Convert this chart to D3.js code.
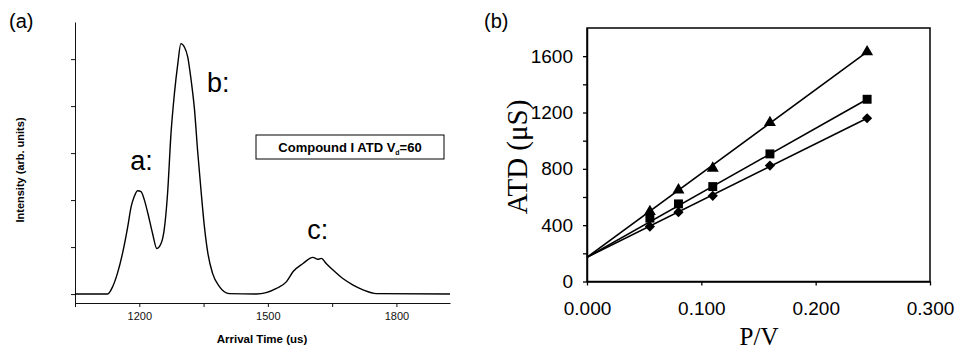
<!DOCTYPE html>
<html>
<head>
<meta charset="utf-8">
<script src="https://cdn.jsdelivr.net/npm/d3@7"></script>
<style>
    body { margin: 0; background: #fff; }
    svg { display: block; }
    .sans { font-family: "Liberation Sans", Arial, sans-serif; }
    .serif { font-family: "Liberation Serif", "Times New Roman", serif; }
</style>
</head>
<body>
<script>
// (a) arrival time distribution, intensity in y-tick units
var arrivalTimes = [1050, 1126, 1138, 1149, 1161, 1173, 1181, 1188, 1196, 1204, 1212, 1220,
    1231, 1241, 1251, 1258, 1266, 1274, 1282, 1290, 1297, 1305, 1313, 1321, 1329, 1336,
    1344, 1352, 1360, 1371, 1387, 1410, 1473, 1496, 1520, 1543, 1559, 1582, 1605, 1617,
    1625, 1636, 1652, 1675, 1699, 1722, 1753, 1925];
var intensities = [0, 0, 0.16, 0.44, 0.87, 1.43, 1.86, 2.07, 2.20, 2.18, 2.00, 1.72,
    1.29, 0.97, 1.08, 1.36, 2.14, 3.42, 4.27, 4.91, 5.33, 5.26, 5.05, 4.55, 3.91, 3.06,
    2.21, 1.43, 0.87, 0.44, 0.16, 0.01, 0, 0.03, 0.12, 0.26, 0.48, 0.65, 0.78, 0.74,
    0.76, 0.65, 0.51, 0.33, 0.19, 0.09, 0.01, 0];
var timeTicks = [1050, 1200, 1350, 1500, 1650, 1800];
var timeLabels = [1200, 1500, 1800];
var intensityTicks = [0, 1, 2, 3, 4, 5];
var peakLabels = ["a:", "b:", "c:"];
var peakTimes = [1179, 1358, 1592];
var peakHeights = [2.65, 4.3, 1.17];

// (b) ATD versus P/V
var pvValues = [0.055, 0.08, 0.11, 0.16, 0.245];
var atdTriangle = [496, 650, 804, 1128, 1631];
var atdSquare = [450, 551, 674, 906, 1294];
var atdDiamond = [390, 492, 608, 823, 1159];
var fitIntercept = 172;
var pvTicks = [0, 0.1, 0.2, 0.3];
var atdTicks = [0, 200, 400, 600, 800, 1000, 1200, 1400, 1600];

var svg = d3.select("body").append("svg")
    .attr("width", 960)
    .attr("height", 349);

drawPanelA();
drawPanelB();

function drawPanelA() {
    var xScale = d3.scaleLinear().domain([1050, 1925]).range([75, 450]);
    var yScale = d3.scaleLinear().domain([-0.19, 5.79]).range([303, 22]);

    svg.append("text")
        .attr("class", "sans")
        .attr("x", 9)
        .attr("y", 28)
        .style("font-size", "20px")
        .text("(a)");

    // Bottom axis
    var xAxis = svg.append("g")
        .attr("transform", `translate(0, ${yScale.range()[0]})`)
        .call(d3.axisBottom(xScale)
            .tickValues(timeTicks)
            .tickSize(4)
            .tickSizeOuter(0)
            .tickPadding(5)
            .tickFormat(function(d) { return timeLabels.indexOf(d) >= 0 ? d : ""; }));
    xAxis.selectAll("text")
        .attr("class", "sans")
        .style("font-size", "11px")
        .attr("fill", "#111");

    // Left axis without labels
    svg.append("g")
        .attr("transform", `translate(${xScale.range()[0]}, 0)`)
        .call(d3.axisLeft(yScale)
            .tickValues(intensityTicks)
            .tickSize(4)
            .tickSizeOuter(0)
            .tickFormat(""));

    svg.selectAll(".domain, .tick line").attr("stroke", "#111");

    // Curve
    var line = d3.line()
        .x(function(d) { return xScale(d[0]); })
        .y(function(d) { return yScale(d[1]); })
        .curve(d3.curveMonotoneX);

    svg.append("path")
        .datum(d3.zip(arrivalTimes, intensities))
        .attr("d", line)
        .attr("fill", "none")
        .attr("stroke", "#000")
        .attr("stroke-width", 1.4);

    // Peak labels
    svg.selectAll(".peak")
        .data(peakLabels)
        .enter()
        .append("text")
        .attr("class", "sans")
        .attr("x", function(d, i) { return xScale(peakTimes[i]); })
        .attr("y", function(d, i) { return yScale(peakHeights[i]); })
        .style("font-size", "27px")
        .text(function(d) { return d; });

    // Legend box
    svg.append("rect")
        .attr("x", 256)
        .attr("y", 135)
        .attr("width", 188)
        .attr("height", 24)
        .attr("fill", "none")
        .attr("stroke", "#000")
        .attr("stroke-width", 1);

    var legend = svg.append("text")
        .attr("class", "sans")
        .attr("x", 350)
        .attr("y", 152)
        .attr("text-anchor", "middle")
        .style("font-size", "13px")
        .style("font-weight", "bold");
    legend.append("tspan").text("Compound I ATD V");
    legend.append("tspan").attr("dy", 3).style("font-size", "7px").text("d");
    legend.append("tspan").attr("dy", -3).text("=60");

    // Axis labels
    svg.append("text")
        .attr("class", "sans")
        .attr("transform", "translate(24, 170) rotate(-90)")
        .attr("text-anchor", "middle")
        .style("font-size", "11px")
        .style("font-weight", "bold")
        .text("Intensity (arb. units)");

    svg.append("text")
        .attr("class", "sans")
        .attr("x", 262)
        .attr("y", 343)
        .attr("text-anchor", "middle")
        .style("font-size", "11.5px")
        .style("font-weight", "bold")
        .text("Arrival Time (us)");
}

function drawPanelB() {
    var xScale = d3.scaleLinear().domain([0, 0.3]).range([587, 930]);
    var yScale = d3.scaleLinear().domain([0, 1800]).range([281.5, 28]);

    var g = svg.append("g");

    g.append("text")
        .attr("class", "sans")
        .attr("x", 484)
        .attr("y", 28)
        .style("font-size", "20px")
        .text("(b)");

    // Frame
    g.append("rect")
        .attr("x", xScale.range()[0])
        .attr("y", yScale.range()[1])
        .attr("width", xScale.range()[1] - xScale.range()[0])
        .attr("height", yScale.range()[0] - yScale.range()[1])
        .attr("fill", "none")
        .attr("stroke", "#000")
        .attr("stroke-width", 1.5);

    var xAxis = g.append("g")
        .attr("transform", `translate(0, ${yScale.range()[0]})`)
        .call(d3.axisBottom(xScale)
            .tickValues(pvTicks)
            .tickSize(4)
            .tickSizeOuter(0)
            .tickPadding(16)
            .tickFormat(d3.format(".3f")));

    var yAxis = g.append("g")
        .attr("transform", `translate(${xScale.range()[0]}, 0)`)
        .call(d3.axisLeft(yScale)
            .tickValues(atdTicks)
            .tickSize(4)
            .tickSizeOuter(0)
            .tickPadding(10)
            .tickFormat(function(d) { return d % 400 === 0 ? d : ""; }));

    g.selectAll(".domain").attr("stroke-width", 1.5);
    g.selectAll(".tick line").attr("stroke-width", 1.3);
    g.selectAll(".tick text")
        .attr("class", "sans")
        .style("font-size", "19px")
        .attr("fill", "#000");

    // Fit lines from intercept to last point
    var seriesList = [
        { values: atdTriangle, symbol: d3.symbolTriangle, size: 62, rotate: 0 },
        { values: atdSquare, symbol: d3.symbolSquare, size: 80, rotate: 0 },
        { values: atdDiamond, symbol: d3.symbolSquare, size: 52, rotate: 45 }
    ];

    seriesList.forEach(function(series) {
        var last = pvValues.length - 1;
        g.append("line")
            .attr("x1", xScale(0))
            .attr("y1", yScale(fitIntercept))
            .attr("x2", xScale(pvValues[last]))
            .attr("y2", yScale(series.values[last]))
            .attr("stroke", "#000")
            .attr("stroke-width", 1.6);

        g.selectAll(null)
            .data(series.values)
            .enter()
            .append("path")
            .attr("d", d3.symbol().type(series.symbol).size(series.size))
            .attr("transform", function(d, i) {
                return `translate(${xScale(pvValues[i])}, ${yScale(d)}) rotate(${series.rotate})`;
            })
            .attr("fill", "#000");
    });

    // Axis labels
    g.append("text")
        .attr("class", "serif")
        .attr("transform", "translate(527, 157) rotate(-90)")
        .attr("text-anchor", "middle")
        .style("font-size", "29px")
        .text("ATD (\u03bcS)");

    g.append("text")
        .attr("class", "serif")
        .attr("x", 759)
        .attr("y", 345)
        .attr("text-anchor", "middle")
        .style("font-size", "25px")
        .text("P/V");
}
</script>
</body>
</html>
